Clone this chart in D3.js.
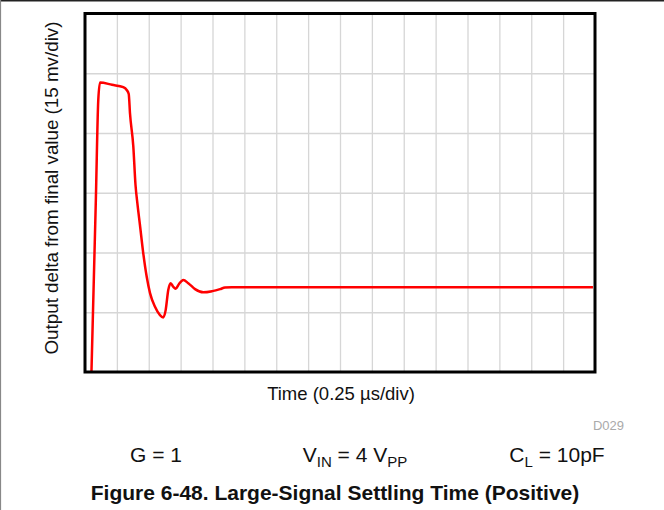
<!DOCTYPE html>
<html>
<head>
<meta charset="utf-8">
<script src="https://cdn.jsdelivr.net/npm/d3@7"></script>
<style>
  html, body { margin: 0; padding: 0; background: #fff; }
  svg { display: block; }
</style>
</head>
<body>
<svg id="chart" width="664" height="510"></svg>
<script>
// Time in microseconds
const timeUs = [0.049, 0.085, 0.104, 0.118, 0.212, 0.300, 0.327, 0.343, 0.353, 0.379, 0.396, 0.412, 0.431, 0.457, 0.484, 0.510, 0.549, 0.588, 0.614, 0.633, 0.653, 0.672, 0.692, 0.711, 0.737, 0.771, 0.810, 0.863, 0.928, 0.998, 1.059, 1.098, 1.151, 1.686, 3.984];
// Output delta from final value, mV
const deltaMv = [-23.3, 21.8, 46.9, 51.4, 50.8, 50.2, 49.5, 48.5, 43.6, 35.3, 25.7, 20.7, 15.6, 8.5, 2.6, -1.5, -4.9, -7.0, -7.6, -5.7, -0.7, 1.0, 0.1, -0.4, 0.8, 1.8, 1.0, -0.5, -1.3, -1.0, -0.5, -0.1, 0.0, 0.0, 0.0];

const xDomain = [0, 4];          // 16 div x 0.25 us
const yDomain = [-21.3, 68.7];   // 6 div x 15 mV
const xGridStep = 0.25;
const yGridStep = 15;

const xLabel = "Time (0.25 \u00B5s/div)";
const yLabel = "Output delta from final value (15 mv/div)";
const noteId = "D029";
const title = "Figure 6-48. Large-Signal Settling Time (Positive)";

const svg = d3.select("#chart");
const m = { left: 85, right: 595, top: 13.5, bottom: 372 };

const x = d3.scaleLinear().domain(xDomain).range([m.left, m.right]);
const y = d3.scaleLinear().domain(yDomain).range([m.bottom, m.top]);

// page border lines
svg.append("line").attr("x1", 0).attr("x2", 664).attr("y1", 0.5).attr("y2", 0.5)
  .attr("stroke", "#222").attr("stroke-width", 2);
svg.append("line").attr("x1", 0.5).attr("x2", 0.5).attr("y1", 0).attr("y2", 510)
  .attr("stroke", "#888").attr("stroke-width", 1.2);

// grid
const xTicks = d3.range(xDomain[0] + xGridStep, xDomain[1] - 1e-9, xGridStep);
const yTicks = d3.range(yDomain[0] + yGridStep, yDomain[1] - 1e-9, yGridStep);

const gx = svg.append("g")
  .attr("transform", `translate(0,${m.bottom})`)
  .call(d3.axisBottom(x).tickValues(xTicks).tickSize(-(m.bottom - m.top)).tickFormat(""));
const gy = svg.append("g")
  .attr("transform", `translate(${m.left},0)`)
  .call(d3.axisLeft(y).tickValues(yTicks).tickSize(-(m.right - m.left)).tickFormat(""));
[gx, gy].forEach(g => {
  g.select(".domain").remove();
  g.selectAll(".tick line").attr("stroke", "#d6d6d6").attr("stroke-width", 1.3);
});

// clip
svg.append("clipPath").attr("id", "clip")
  .append("rect").attr("x", m.left).attr("y", m.top)
  .attr("width", m.right - m.left).attr("height", m.bottom - m.top);

const data = timeUs.map((t, i) => [t, deltaMv[i]]);
const line = d3.line().x(d => x(d[0])).y(d => y(d[1])).curve(d3.curveMonotoneX);
svg.append("path").datum(data)
  .attr("clip-path", "url(#clip)")
  .attr("d", line)
  .attr("fill", "none")
  .attr("stroke", "#ff0000")
  .attr("stroke-width", 2.5)
  .attr("stroke-linejoin", "round");

// frame
svg.append("rect")
  .attr("x", m.left).attr("y", m.top)
  .attr("width", m.right - m.left).attr("height", m.bottom - m.top)
  .attr("fill", "none").attr("stroke", "#000").attr("stroke-width", 3);

const font = "Liberation Sans, Arial, Helvetica, sans-serif";

svg.append("text")
  .attr("x", 341).attr("y", 400)
  .attr("text-anchor", "middle")
  .attr("font-family", font).attr("font-size", 18.5).attr("fill", "#111")
  .text(xLabel);

svg.append("text")
  .attr("transform", `translate(58,188) rotate(-90)`)
  .attr("text-anchor", "middle")
  .attr("font-family", font).attr("font-size", 18.8).attr("fill", "#111")
  .text(yLabel);

svg.append("text")
  .attr("x", 624).attr("y", 430)
  .attr("text-anchor", "end")
  .attr("font-family", font).attr("font-size", 13).attr("fill", "#aaa")
  .text(noteId);

// conditions
const cond = svg.append("g").attr("font-family", font).attr("font-size", 21).attr("fill", "#111");
cond.append("text").attr("x", 156).attr("y", 462).attr("text-anchor", "middle").text("G = 1");
const vin = cond.append("text").attr("x", 355).attr("y", 462).attr("text-anchor", "middle");
vin.append("tspan").text("V");
vin.append("tspan").attr("font-size", 15).attr("dy", 5).text("IN");
vin.append("tspan").attr("dy", -5).text(" = 4 V");
vin.append("tspan").attr("font-size", 15).attr("dy", 5).text("PP");
const cl = cond.append("text").attr("x", 557).attr("y", 462).attr("text-anchor", "middle");
cl.append("tspan").text("C");
cl.append("tspan").attr("font-size", 15).attr("dy", 5).text("L");
cl.append("tspan").attr("dy", -5).text(" = 10pF");

svg.append("text")
  .attr("x", 335).attr("y", 500)
  .attr("text-anchor", "middle")
  .attr("font-family", font).attr("font-size", 21).attr("font-weight", "bold").attr("fill", "#111")
  .text(title);
</script>
</body>
</html>
